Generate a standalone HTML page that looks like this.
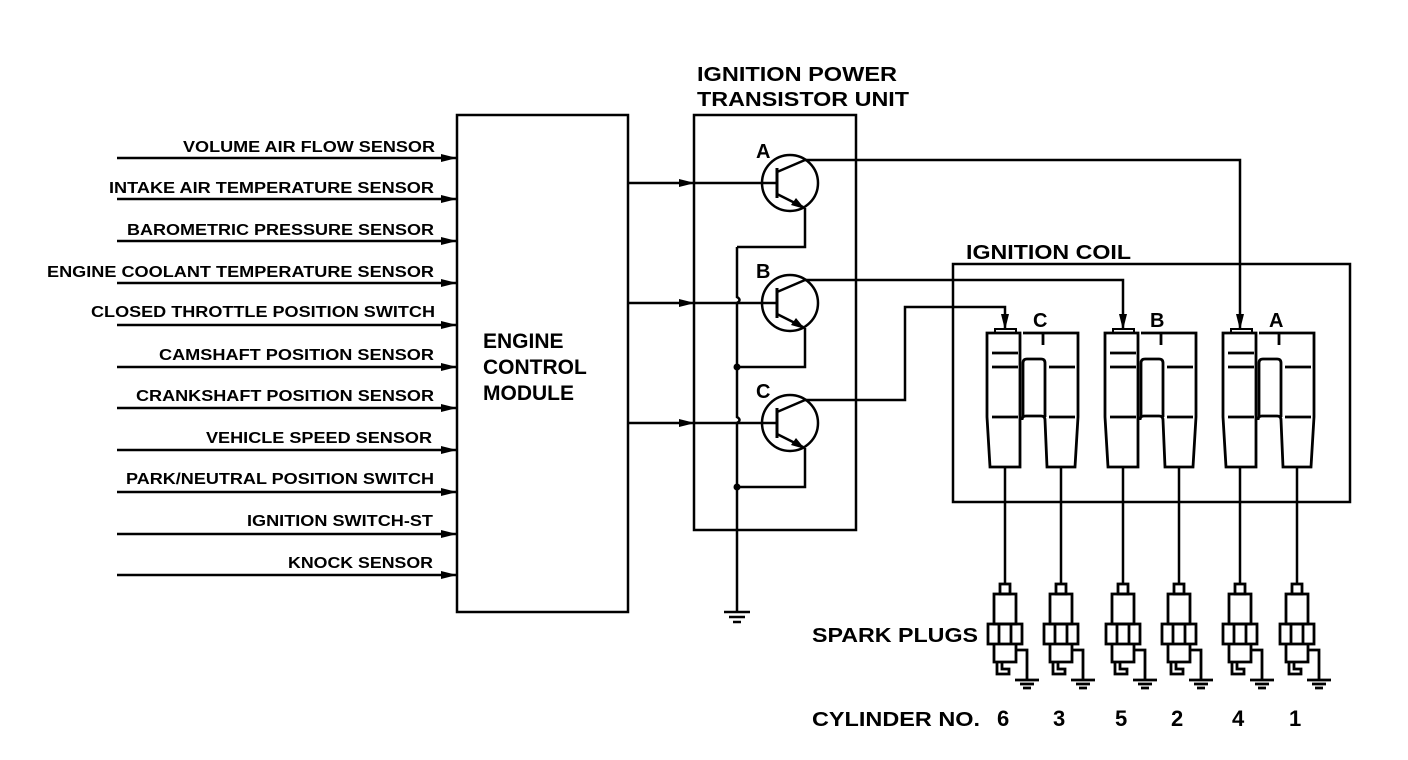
<!DOCTYPE html>
<html><head><meta charset="utf-8"><style>
html,body{margin:0;padding:0;background:#fff;}
svg{display:block;}
text{font-family:"Liberation Sans",Arial,sans-serif;font-weight:bold;fill:#000;}
</style></head><body>
<svg width="1408" height="760" viewBox="0 0 1408 760" xmlns="http://www.w3.org/2000/svg">
<defs>
<marker id="ar" markerWidth="16" markerHeight="10" refX="15" refY="5" orient="auto" markerUnits="userSpaceOnUse"><path d="M0,1 L16,5 L0,9Z" fill="#000"/></marker>
<g id="coil" fill="none" stroke="#000" stroke-width="2.8">
<rect x="8" y="-4" width="21" height="4" stroke-width="2"/>
<path d="M0,0 L33,0 L33,134 L3,134 L0,84Z"/>
<path d="M36,0 L91,0 L91,84 L88,134 L60,134 L58,87"/>
<path d="M56,0 L56,12" />
<path d="M5,20 L31,20 M5,34 L31,34 M62,34 L88,34 M5,84 L31,84 M62,84 L88,84"/>
<path d="M36,84 L36,30 Q36,26 40,26 L54,26 Q58,26 58,30 L58,84"/>
<path d="M35,87 Q35,83 39,83 L54,83 Q58,83 58,87"/>
</g>
<g id="plug" fill="none" stroke="#000" stroke-width="2.8">
<rect x="-5" y="0" width="10" height="10"/>
<rect x="-11" y="10" width="22" height="30"/>
<rect x="-17" y="40" width="34" height="20"/>
<path d="M-6,40 L-6,60 M6,40 L6,60"/>
<path d="M-11,60 L-11,78 L11,78 L11,60"/>
<path d="M-8,78 L-8,90 L4,90 L4,85 L-3,85 L-3,78"/>
<path d="M11,66 L22,66 L22,96"/>
<path d="M10,96 L34,96 M15,100 L29,100 M18,104 L26,104"/>
</g>
</defs>

<g stroke="#000" stroke-width="2.5" fill="none">
<rect x="457" y="115" width="171" height="497"/>
<g marker-end="url(#ar)">
<line x1="117" y1="158" x2="456" y2="158"/>
<line x1="117" y1="199" x2="456" y2="199"/>
<line x1="117" y1="241" x2="456" y2="241"/>
<line x1="117" y1="283" x2="456" y2="283"/>
<line x1="117" y1="325" x2="456" y2="325"/>
<line x1="117" y1="367" x2="456" y2="367"/>
<line x1="117" y1="408" x2="456" y2="408"/>
<line x1="117" y1="450" x2="456" y2="450"/>
<line x1="117" y1="492" x2="456" y2="492"/>
<line x1="117" y1="534" x2="456" y2="534"/>
<line x1="117" y1="575" x2="456" y2="575"/>
</g>
<rect x="694" y="115" width="162" height="415"/>
<g marker-end="url(#ar)">
<line x1="628" y1="183" x2="694" y2="183"/>
<line x1="628" y1="303" x2="694" y2="303"/>
<line x1="628" y1="423" x2="694" y2="423"/>
</g>
<line x1="694" y1="183" x2="776" y2="183"/>
<line x1="694" y1="303" x2="776" y2="303"/>
<line x1="694" y1="423" x2="776" y2="423"/>
<circle cx="790" cy="183" r="28"/><line x1="777" y1="168" x2="777" y2="198" stroke-width="3"/>
<path d="M777,172 L805,160"/><path d="M777,194 L803,207"/>
<path d="M805,208 L805,247 L737,247"/>
<circle cx="790" cy="303" r="28"/><line x1="777" y1="288" x2="777" y2="318" stroke-width="3"/>
<path d="M777,292 L805,280"/><path d="M777,314 L803,327"/>
<path d="M805,328 L805,367 L737,367"/>
<circle cx="790" cy="423" r="28"/><line x1="777" y1="408" x2="777" y2="438" stroke-width="3"/>
<path d="M777,412 L805,400"/><path d="M777,434 L803,447"/>
<path d="M805,448 L805,487 L737,487"/>
<path d="M737,247 L737,297 Q742,300 737,303 L737,417 Q742,420 737,423 L737,612"/>
<path d="M724,612 L750,612 M729,617 L745,617 M733,622 L741,622"/>
<path d="M805,160 L1240,160 L1240,329" marker-end="url(#ar)"/>
<path d="M805,280 L1123,280 L1123,329" marker-end="url(#ar)"/>
<path d="M805,400 L905,400 L905,307 L1005,307 L1005,329" marker-end="url(#ar)"/>
<rect x="953" y="264" width="397" height="238"/>
<path d="M1005,467 L1005,584 M1061,467 L1061,584 M1123,467 L1123,584 M1179,467 L1179,584 M1240,467 L1240,584 M1297,467 L1297,584"/>
</g>
<g fill="#000">
<path d="M791,205 L805,209 L796,198Z"/>
<path d="M791,325 L805,329 L796,318Z"/>
<path d="M791,445 L805,449 L796,438Z"/>
<circle cx="737" cy="367" r="3.5"/><circle cx="737" cy="487" r="3.5"/>
</g>
<use href="#coil" x="987" y="333"/>
<use href="#coil" x="1105" y="333"/>
<use href="#coil" x="1223" y="333"/>
<use href="#plug" x="1005" y="584"/>
<use href="#plug" x="1061" y="584"/>
<use href="#plug" x="1123" y="584"/>
<use href="#plug" x="1179" y="584"/>
<use href="#plug" x="1240" y="584"/>
<use href="#plug" x="1297" y="584"/>

<g font-size="16">
<text x="183" y="152" textLength="252" lengthAdjust="spacingAndGlyphs">VOLUME AIR FLOW SENSOR</text>
<text x="109" y="193" textLength="325" lengthAdjust="spacingAndGlyphs">INTAKE AIR TEMPERATURE SENSOR</text>
<text x="127" y="235" textLength="307" lengthAdjust="spacingAndGlyphs">BAROMETRIC PRESSURE SENSOR</text>
<text x="47" y="277" textLength="387" lengthAdjust="spacingAndGlyphs">ENGINE COOLANT TEMPERATURE SENSOR</text>
<text x="91" y="317" textLength="344" lengthAdjust="spacingAndGlyphs">CLOSED THROTTLE POSITION SWITCH</text>
<text x="159" y="360" textLength="275" lengthAdjust="spacingAndGlyphs">CAMSHAFT POSITION SENSOR</text>
<text x="136" y="401" textLength="298" lengthAdjust="spacingAndGlyphs">CRANKSHAFT POSITION SENSOR</text>
<text x="206" y="443" textLength="226" lengthAdjust="spacingAndGlyphs">VEHICLE SPEED SENSOR</text>
<text x="126" y="484" textLength="308" lengthAdjust="spacingAndGlyphs">PARK/NEUTRAL POSITION SWITCH</text>
<text x="247" y="526" textLength="186" lengthAdjust="spacingAndGlyphs">IGNITION SWITCH-ST</text>
<text x="288" y="568" textLength="145" lengthAdjust="spacingAndGlyphs">KNOCK SENSOR</text>
</g>
<g font-size="21">
<text x="483" y="348">ENGINE</text>
<text x="483" y="374">CONTROL</text>
<text x="483" y="400">MODULE</text>
</g>
<g font-size="20">
<text x="697" y="81" textLength="200" lengthAdjust="spacingAndGlyphs">IGNITION POWER</text>
<text x="697" y="106" textLength="212" lengthAdjust="spacingAndGlyphs">TRANSISTOR UNIT</text>
<text x="966" y="259" textLength="165" lengthAdjust="spacingAndGlyphs">IGNITION COIL</text>
<text x="756" y="158">A</text>
<text x="756" y="278">B</text>
<text x="756" y="398">C</text>
<text x="1033" y="327">C</text>
<text x="1150" y="327">B</text>
<text x="1269" y="327">A</text>
<text x="812" y="642" textLength="166" lengthAdjust="spacingAndGlyphs">SPARK PLUGS</text>
<text x="812" y="726" textLength="168" lengthAdjust="spacingAndGlyphs">CYLINDER NO.</text>
</g>
<g font-size="22">
<text x="997" y="726">6</text>
<text x="1053" y="726">3</text>
<text x="1115" y="726">5</text>
<text x="1171" y="726">2</text>
<text x="1232" y="726">4</text>
<text x="1289" y="726">1</text>
</g>
</svg>
</body></html>
